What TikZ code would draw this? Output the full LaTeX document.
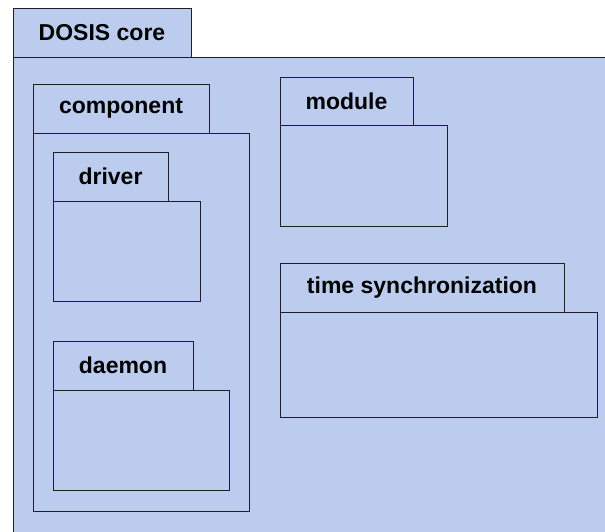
\documentclass[tikz,border=0pt]{standalone}
\usepackage{fontspec}
\setmainfont{Liberation Sans}
\definecolor{pkgfill}{RGB}{188,204,238}
\definecolor{pkgline}{RGB}{30,30,36}
\begin{document}
\begin{tikzpicture}[x=1pt,y=-1pt,
  pkgpart/.style={draw=pkgline,line width=0.9pt,fill=pkgfill,rectangle,
    inner sep=0pt,outer sep=0pt,anchor=north west},
  pkgtab/.style={pkgpart,font=\fontsize{23}{27}\selectfont\bfseries},
  pkgbody/.style={pkgpart}]
\useasboundingbox (0,0) rectangle (605,531);
\clip (0,0) rectangle (605,531);

% outer package: DOSIS core (its body runs past the right and bottom edges)
\node[pkgbody,minimum width=620pt,minimum height=500pt] (corebody) at (13,57) {};
\node[pkgtab,minimum width=178pt,minimum height=49pt] (coretab) at (13,8) {DOSIS core};

% component package
\node[pkgbody,minimum width=216pt,minimum height=378pt] (compbody) at (33,133) {};
\node[pkgtab,minimum width=176pt,minimum height=49pt] (comptab) at (33,84) {component};

% driver package
\node[pkgbody,minimum width=147pt,minimum height=100pt] (drvbody) at (53,201) {};
\node[pkgtab,minimum width=115pt,minimum height=49pt] (drvtab) at (53,152) {driver};

% daemon package
\node[pkgbody,minimum width=176pt,minimum height=100pt] (dmnbody) at (53,390) {};
\node[pkgtab,minimum width=140pt,minimum height=49pt] (dmntab) at (53,341) {daemon};

% module package
\node[pkgbody,minimum width=167pt,minimum height=101pt] (modbody) at (280,125) {};
\node[pkgtab,minimum width=133pt,minimum height=48pt] (modtab) at (280,77) {module};

% time synchronization package
\node[pkgbody,minimum width=317pt,minimum height=105pt] (tsbody) at (280,312) {};
\node[pkgtab,minimum width=284pt,minimum height=49pt] (tstab) at (280,263) {time synchronization};
\end{tikzpicture}
\end{document}
